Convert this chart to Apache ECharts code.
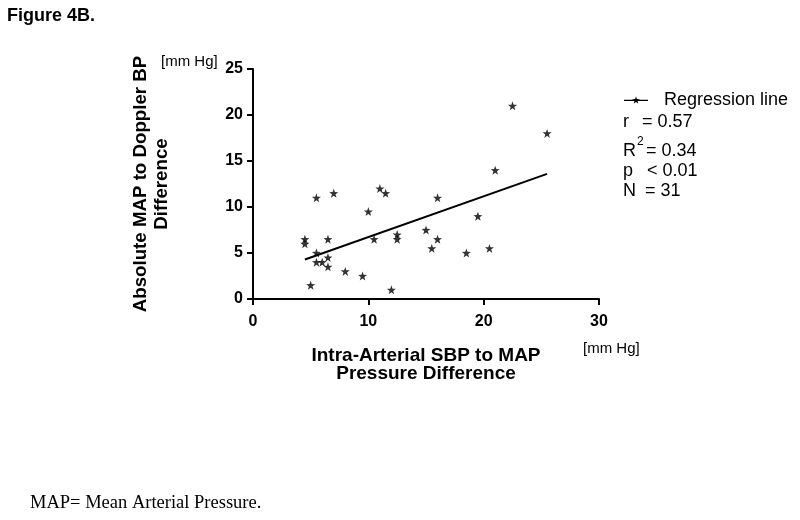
<!DOCTYPE html>
<html>
<head>
<meta charset="utf-8">
<script src="https://cdn.jsdelivr.net/npm/echarts@6/dist/echarts.min.js"></script>
<style>
html, body { margin: 0; padding: 0; background: #fff; }
#main { width: 800px; height: 520px; }
</style>
</head>
<body>
<div id="main"></div>
<script>
// Figure 4B - scatter of SBP-MAP difference vs MAP-Doppler difference
var xVals = [4.5, 4.5, 5.5, 5.5, 5.5, 6.0, 5.0, 6.5, 6.5, 6.5, 7.0, 8.0, 9.5, 10.0, 10.5,
             11.0, 11.5, 12.0, 12.5, 12.5, 15.0, 15.5, 16.0, 16.0, 18.5, 19.5, 20.5, 21.0, 22.5, 25.5];
var yVals = [6.5, 6.0, 11.0, 5.0, 4.0, 4.0, 1.5, 6.5, 4.5, 3.5, 11.5, 3.0, 2.5, 9.5, 6.5,
             12.0, 11.5, 1.0, 7.0, 6.5, 7.5, 5.5, 11.0, 6.5, 5.0, 9.0, 5.5, 14.0, 21.0, 18.0];
var regX = [4.5, 25.5];
var regY = [4.3, 13.6];
var xTicks = [0, 10, 20, 30];
var yTicks = [0, 5, 10, 15, 20, 25];

var STAR = 'path://M0,-10 L2.35,-3.24 L9.51,-3.09 L3.80,1.24 L5.88,8.09 L0,4 L-5.88,8.09 L-3.80,1.24 L-9.51,-3.09 L-2.35,-3.24 Z';
var LEGEND_ICON = 'path://M0,3.3 L24,3.3 L24,4.7 L0,4.7 Z M12,0 L12.94,2.7 L15.8,2.76 L13.52,4.5 L14.35,7.24 L12,5.6 L9.65,7.24 L10.48,4.5 L8.2,2.76 L11.06,2.7 Z';

var pts = xVals.map(function (x, i) { return [x, yVals[i]]; });
var reg = regX.map(function (x, i) { return [x, regY[i]]; });

var font = 'Liberation Sans, Arial, sans-serif';

var dom = document.getElementById('main');
var myChart = echarts.init(dom);

function txt(x, y, s, size, bold) {
    return {
        type: 'text', x: x, y: y,
        style: { text: s, font: (bold ? 'bold ' : '') + size + 'px ' + font,
                 fill: '#000', textVerticalAlign: 'middle', textAlign: 'left' }
    };
}

var option = {
    animation: false,
    backgroundColor: '#fff',
    grid: { left: 253, right: 201, top: 69, bottom: 221 },
    legend: {
        left: 619, top: 86,
        itemWidth: 24, itemHeight: 8,
        data: [{ name: 'Regression line', icon: LEGEND_ICON }],
        textStyle: { fontFamily: font, fontSize: 18, color: '#000', padding: [0, 0, 0, 11] },
        itemStyle: { color: '#000' }
    },
    xAxis: {
        type: 'value', min: xTicks[0], max: xTicks[xTicks.length - 1], interval: 10,
        name: 'Intra-Arterial SBP to MAP\nPressure Difference',
        nameLocation: 'middle', nameGap: 48,
        nameTextStyle: { fontFamily: font, fontSize: 19, fontWeight: 'bold', color: '#000', lineHeight: 18 },
        axisLine: { lineStyle: { color: '#000', width: 2 } },
        axisTick: { length: 6, lineStyle: { color: '#000', width: 2 } },
        axisLabel: { fontFamily: font, fontSize: 16, fontWeight: 'bold', color: '#000', margin: 15 },
        splitLine: { show: false }
    },
    yAxis: {
        type: 'value', min: yTicks[0], max: yTicks[yTicks.length - 1], interval: 5,
        name: 'Absolute MAP to Doppler BP\nDifference',
        nameLocation: 'middle', nameGap: 81, nameRotate: 90,
        nameTextStyle: { fontFamily: font, fontSize: 18.7, fontWeight: 'bold', color: '#000', lineHeight: 21 },
        axisLine: { lineStyle: { color: '#000', width: 2 } },
        axisTick: { length: 6, lineStyle: { color: '#000', width: 2 } },
        axisLabel: { fontFamily: font, fontSize: 16, fontWeight: 'bold', color: '#000', margin: 10 },
        splitLine: { show: false }
    },
    series: [
        {
            name: 'data', type: 'scatter', data: pts,
            symbol: STAR, symbolSize: 9,
            itemStyle: { color: '#000' }
        },
        {
            name: 'Regression line', type: 'line', data: reg,
            showSymbol: false, symbol: 'none',
            lineStyle: { color: '#000', width: 2 },
            itemStyle: { color: '#000' }
        }
    ],
    graphic: [
        txt(7, 16, 'Figure 4B.', 18, true),
        txt(161, 62, '[mm Hg]', 15),
        txt(583, 349, '[mm Hg]', 15),
        txt(623, 122, 'r', 18),
        txt(642, 122, '= 0.57', 18),
        txt(623, 151, 'R', 18),
        txt(637, 142, '2', 12),
        txt(646, 151, '= 0.34', 18),
        txt(623, 171, 'p', 18),
        txt(647, 171, '< 0.01', 18),
        txt(623, 191, 'N', 18),
        txt(645, 191, '= 31', 18),
        {
            type: 'text', x: 30, y: 503,
            style: { text: 'MAP= Mean Arterial Pressure.', font: '18.5px Liberation Serif, Times New Roman, serif',
                     fill: '#000', textVerticalAlign: 'middle' }
        }
    ]
};

myChart.setOption(option);
</script>
</body>
</html>
